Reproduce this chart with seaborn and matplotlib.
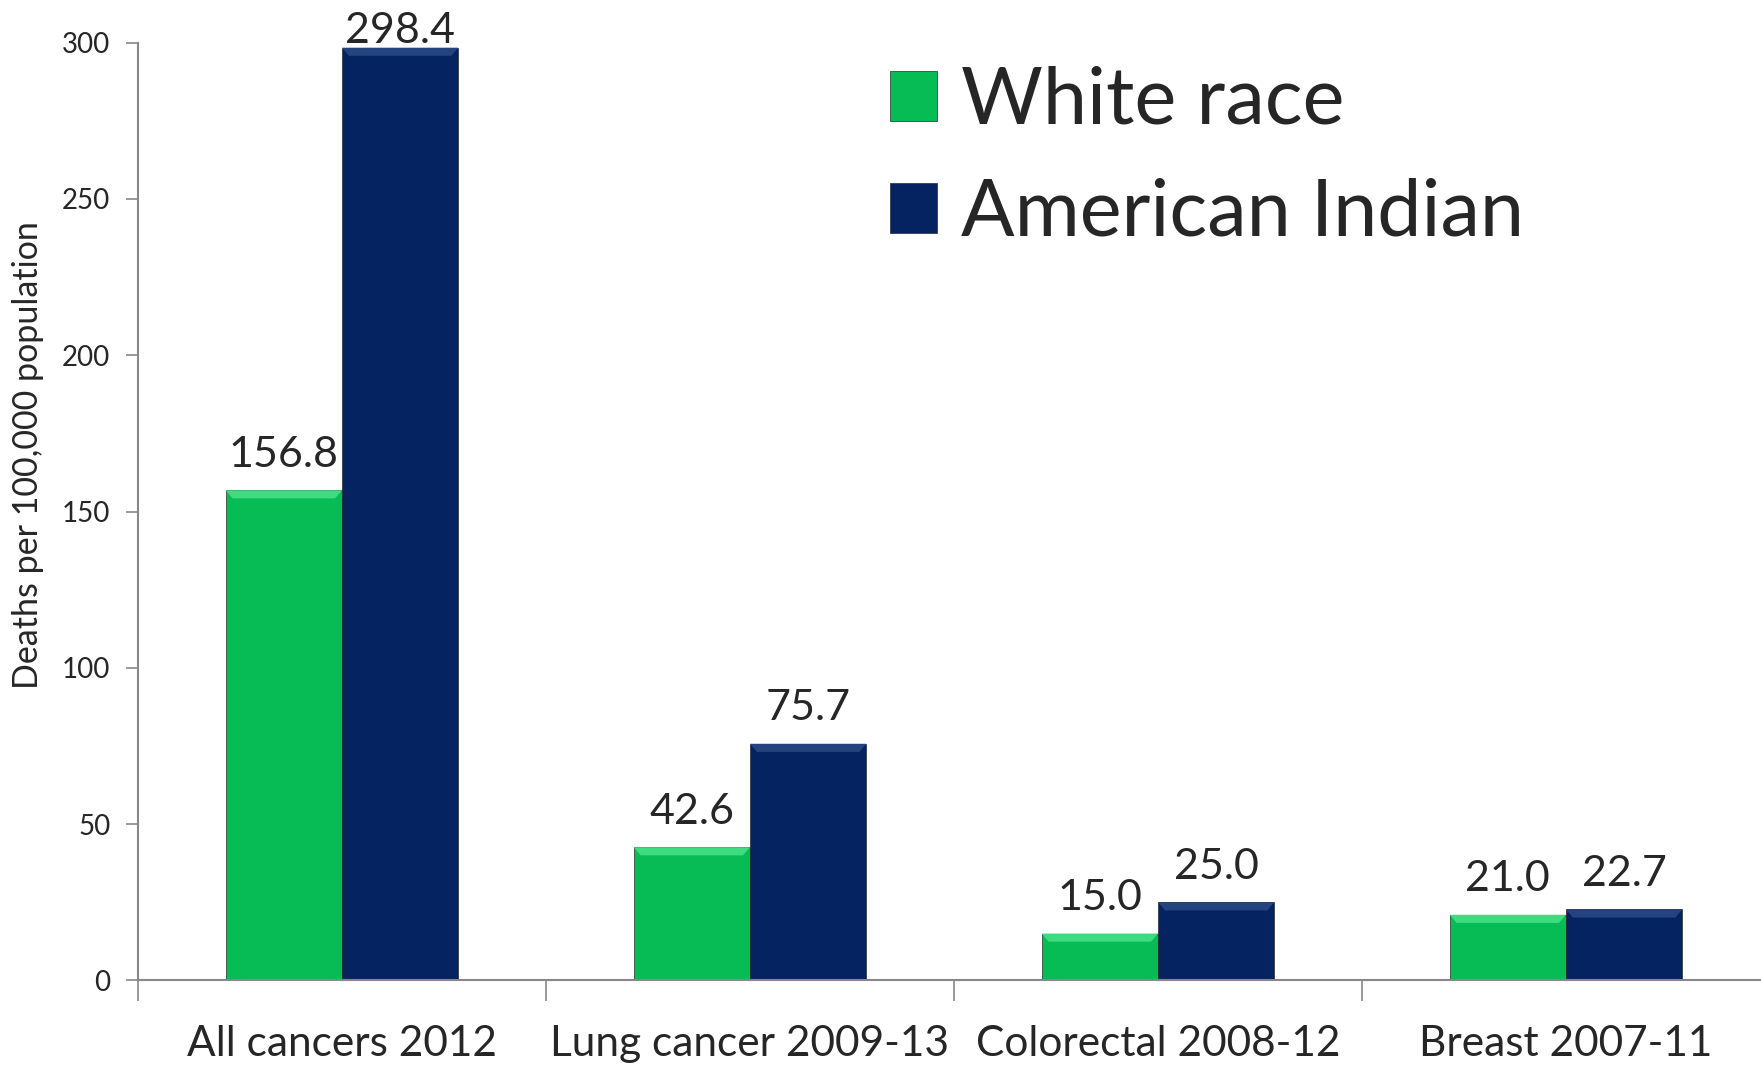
import numpy as np
import pandas as pd
import matplotlib
matplotlib.use("Agg")
import matplotlib.pyplot as plt
import seaborn as sns

categories = ["All cancers 2012", "Lung cancer 2009-13", "Colorectal 2008-12", "Breast 2007-11"]
white_race = [156.8, 42.6, 15.0, 21.0]
american_indian = [298.4, 75.7, 25.0, 22.7]
groups = ["White race", "American Indian"]
colors = ["#07bb55", "#042360"]
bevel_colors = ["#3ddc80", "#23447f"]

df = pd.DataFrame({
    "category": categories * 2,
    "value": white_race + american_indian,
    "group": [groups[0]] * len(categories) + [groups[1]] * len(categories),
})

sns.set_style("white")
plt.rcParams["font.family"] = ["Lato", "DejaVu Sans"]

fig = plt.figure(figsize=(17.61, 10.66), dpi=100)
ax = fig.add_axes([138 / 1761, 1 - 980.4 / 1066, 1623 / 1761, (980.4 - 42.7) / 1066])

sns.barplot(data=df, x="category", y="value", hue="group", palette=colors,
            width=0.57, saturation=1, errorbar=None, ax=ax,
            edgecolor="#2a2a2a", linewidth=0.5)

# light bevel strip along the top of each bar
for cont, bc in zip(ax.containers, bevel_colors):
    for p in cont.patches:
        x0, w, h = p.get_x(), p.get_width(), p.get_height()
        d = 2.6
        dx = w * 0.06
        ax.fill([x0, x0 + w, x0 + w - dx, x0 + dx], [h, h, h - d, h - d],
                color=bc, lw=0, zorder=p.get_zorder() + 0.1)

# labels sit above the bars; the tallest one is squeezed under the top edge
for cont in ax.containers:
    anns = ax.bar_label(cont, fmt="%.1f", padding=12, fontsize=31, clip_on=False)
    for ann, v in zip(anns, cont.datavalues):
        if v > 280:
            ann.xyann = (0, -2)

ax.set_ylim(0, 300)
ax.set_xlim(-0.5, 3.478)
ax.set_yticks([0, 50, 100, 150, 200, 250, 300])
ax.tick_params(axis="y", labelsize=20, length=9, color="#888888", width=1.2, pad=11, left=True)
ax.set_xticks([-0.5, 0.5, 1.5, 2.5], minor=True)
ax.tick_params(axis="x", which="major", length=0, labelsize=30.5, pad=32)
ax.tick_params(axis="x", which="minor", length=15, color="#888888", width=1.2, bottom=True)

for s in ["top", "right"]:
    ax.spines[s].set_visible(False)
for s in ["left", "bottom"]:
    ax.spines[s].set_color("#888888")
    ax.spines[s].set_linewidth(1.5)

ax.set_xlabel("")
ax.set_ylabel("Deaths per 100,000 population", fontsize=24.5)
ax.yaxis.set_label_coords(-0.058, 0.56)

handles, labels = ax.get_legend_handles_labels()
ax.legend(handles, labels, loc="upper left", bbox_to_anchor=(890 / 1761, 1 - 66 / 1066),
          bbox_transform=fig.transFigure, frameon=False, fontsize=57,
          handlelength=0.6, handleheight=0.6, handletextpad=0.3,
          labelspacing=0.5, borderpad=0, borderaxespad=0)

fig.savefig("out.png", dpi=100)
